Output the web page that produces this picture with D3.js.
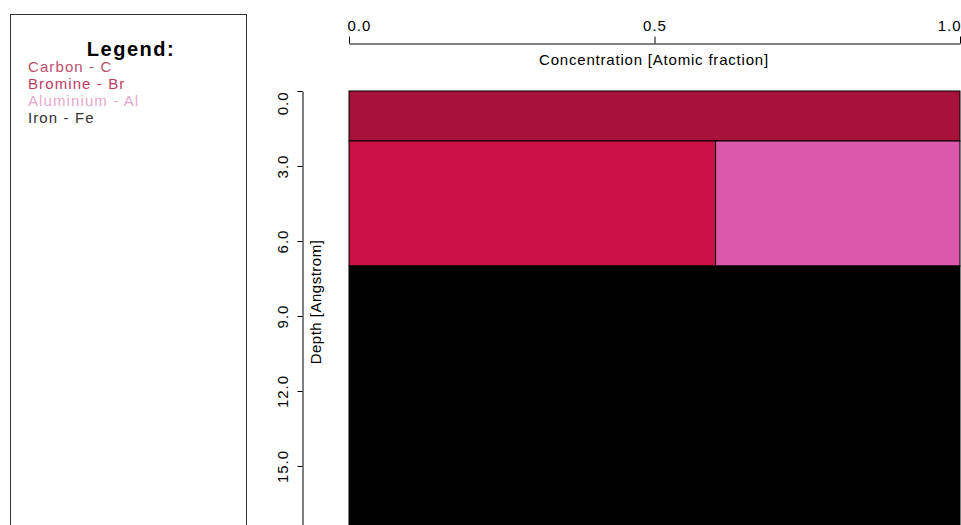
<!DOCTYPE html>
<html>
<head>
<meta charset="utf-8">
<script src="https://cdn.jsdelivr.net/npm/d3@7"></script>
<style>
  body { margin: 0; background: #fff; }
  svg { display: block; font-family: Arial, "Liberation Sans", sans-serif; }
</style>
</head>
<body>
<div id="chart"></div>
<script>
// elements and layer composition
const elements = ["Carbon - C", "Bromine - Br", "Aluminium - Al", "Iron - Fe"];
const keys = ["C", "Br", "Al", "Fe"];
const colors = ["#a6123a", "#cc1244", "#dc58aa", "#000000"];
const textColors = ["#b8506e", "#c03a66", "#e4a8cc", "#333333"];

const layerTop = [0, 2, 7];
const layerBottom = [2, 7, 20];
const C = [1.0, 0.0, 0.0];
const Br = [0.0, 0.6, 0.0];
const Al = [0.0, 0.4, 0.0];
const Fe = [0.0, 0.0, 1.0];

const xTicks = [0.0, 0.5, 1.0];
const yTicks = [0, 3, 6, 9, 12, 15];

const width = 961, height = 525;

const svg = d3.select("#chart").append("svg")
    .attr("width", width)
    .attr("height", height);

// legend panel
svg.append("rect")
    .attr("x", 10.5).attr("y", 14.5)
    .attr("width", 236).attr("height", 530)
    .attr("fill", "#fff")
    .attr("stroke", "#333");

svg.append("text")
    .attr("x", 131).attr("y", 56)
    .attr("text-anchor", "middle")
    .attr("font-size", 20).attr("font-weight", "bold")
    .attr("letter-spacing", 1.5)
    .text("Legend:");

svg.selectAll(".leg")
    .data(elements)
    .join("text")
    .classed("leg", true)
    .attr("x", 28)
    .attr("y", (d, i) => 72 + i * 17)
    .attr("font-size", 15)
    .attr("letter-spacing", 1.1)
    .attr("fill", (d, i) => textColors[i])
    .text(d => d);

// plot
const x = d3.scaleLinear().domain([0, 1]).range([349, 960]);
const y = d3.scaleLinear().domain([0, 20]).range([91, 591]);

const rows = layerTop.map((t, i) => ({
    top: t, bottom: layerBottom[i],
    C: C[i], Br: Br[i], Al: Al[i], Fe: Fe[i]
}));
const series = d3.stack().keys(keys)(rows);

svg.append("g")
    .selectAll("g")
    .data(series)
    .join("g")
    .attr("fill", (d, i) => colors[i])
    .selectAll("rect")
    .data(d => d.filter(s => s[1] - s[0] > 0))
    .join("rect")
    .attr("x", d => x(d[0]))
    .attr("y", d => y(d.data.top))
    .attr("width", d => x(d[1]) - x(d[0]))
    .attr("height", d => y(d.data.bottom) - y(d.data.top))
    .attr("stroke", "#000")
    .attr("stroke-width", 1);

// top axis
const xAxis = svg.append("g")
    .attr("transform", "translate(0,43.5)")
    .call(d3.axisTop(x).tickValues(xTicks).tickFormat(d3.format(".1f")).tickSize(7).tickSizeOuter(0));
xAxis.select(".domain").attr("stroke", "#000");
xAxis.selectAll("text")
    .attr("font-size", 15)
    .attr("letter-spacing", 1)
    .attr("fill", "#000")
    .attr("y", -13)
    .attr("text-anchor", (d, i) => i === 0 ? "start" : i === xTicks.length - 1 ? "end" : "middle")
    .attr("dx", (d, i) => i === 0 ? -2 : i === xTicks.length - 1 ? 1 : 0);

svg.append("text")
    .attr("x", 654).attr("y", 65)
    .attr("text-anchor", "middle")
    .attr("font-size", 15)
    .attr("letter-spacing", 0.8)
    .text("Concentration [Atomic fraction]");

// left axis
const yAxis = svg.append("g")
    .attr("transform", "translate(302.5,0)")
    .call(d3.axisLeft(y).tickValues(yTicks).tickFormat(d3.format(".1f")).tickSize(5).tickSizeOuter(0));
yAxis.select(".domain").attr("stroke", "#000");
yAxis.selectAll(".tick text")
    .attr("font-size", 15)
    .attr("letter-spacing", 1)
    .attr("fill", "#000")
    .attr("text-anchor", (d, i) => i === 0 ? "end" : "middle")
    .attr("transform", "translate(-20,0) rotate(-90)")
    .attr("x", 0)
    .attr("y", 0)
    .attr("dy", "0.35em");

svg.append("text")
    .attr("transform", "translate(321,302) rotate(-90)")
    .attr("text-anchor", "middle")
    .attr("font-size", 15)
    .attr("letter-spacing", 0.5)
    .text("Depth [Angstrom]");
</script>
</body>
</html>
